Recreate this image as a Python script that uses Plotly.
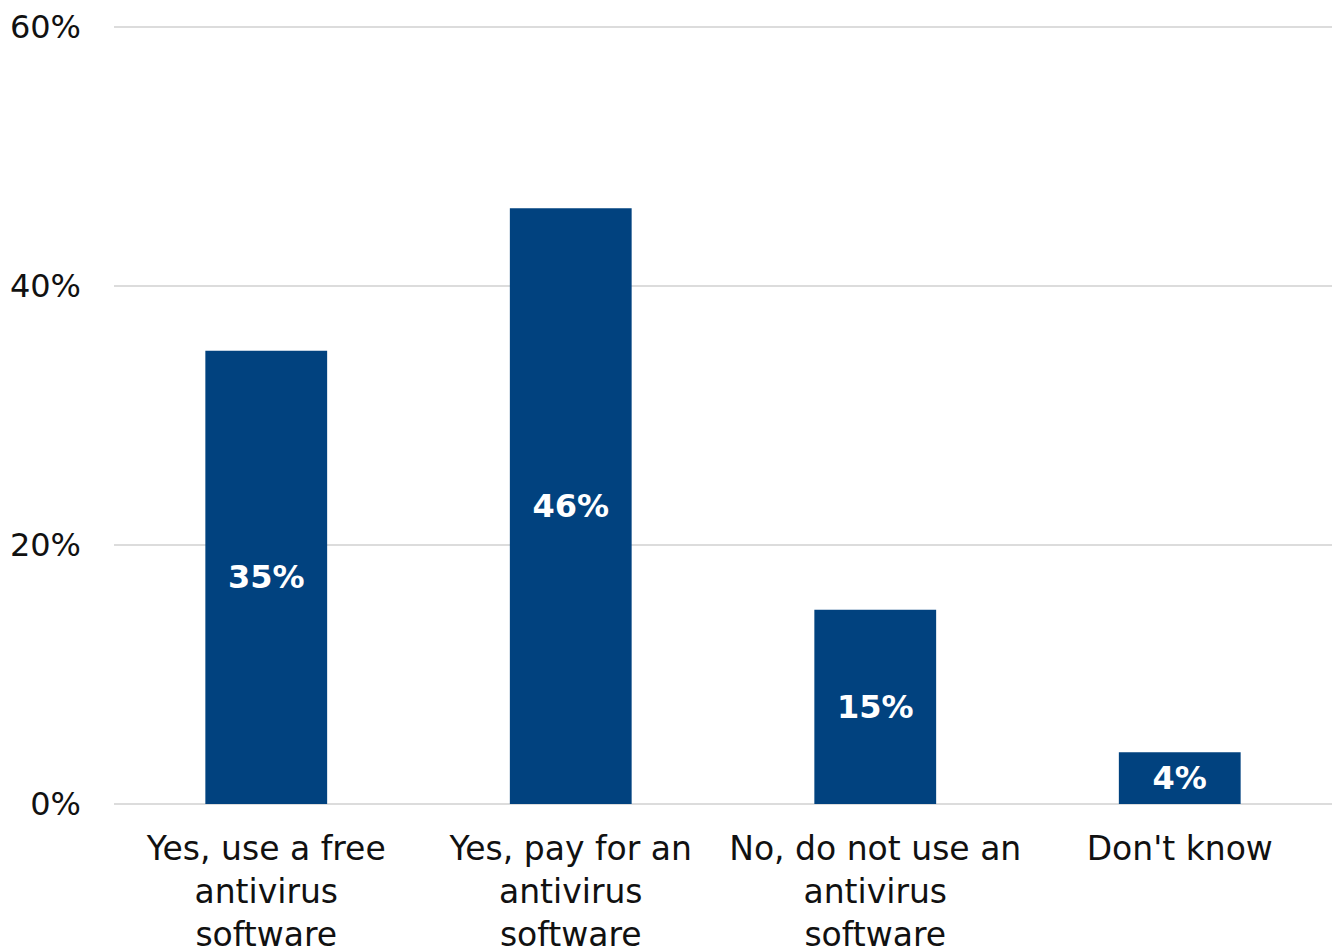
import plotly.graph_objects as go

categories = [
    "Yes, use a free<br>antivirus<br>software",
    "Yes, pay for an<br>antivirus<br>software",
    "No, do not use an<br>antivirus<br>software",
    "Don't know",
]
values = [35, 46, 15, 4]
tick_vals = [0, 20, 40, 60]
tick_text = ["0%", "20%", "40%", "60%"]

FONT = "DejaVu Sans"
BAR_COLOR = "#01427f"

fig = go.Figure(
    go.Bar(
        x=categories,
        y=values,
        marker=dict(color=BAR_COLOR, line=dict(width=0)),
        text=[f"{v}%" for v in values],
        textposition="inside",
        insidetextanchor="middle",
        textangle=0,
        textfont=dict(family=FONT, size=32, color="white", weight="bold"),
        constraintext="none",
        cliponaxis=False,
    )
)

fig.update_layout(
    width=1337,
    height=947,
    margin=dict(l=114, r=5, t=25, b=141, autoexpand=False),
    paper_bgcolor="white",
    plot_bgcolor="white",
    bargap=0.6,
    showlegend=False,
    font=dict(family=FONT, color="#111111"),
    uniformtext=dict(mode=False),
)

fig.update_xaxes(
    showgrid=False,
    showline=False,
    ticks="",
    tickfont=dict(family=FONT, size=33, color="#111111"),
    automargin=False,
    ticklabelstandoff=20,
)

# padding so the 0% and 60% gridlines are kept at the plot edges
fig.update_yaxes(
    range=[-0.15, 60.15],
    tickvals=tick_vals,
    ticktext=tick_text,
    showgrid=True,
    gridcolor="#dcdcdc",
    gridwidth=2,
    zeroline=False,
    showline=False,
    ticks="",
    tickfont=dict(family=FONT, size=32, color="#111111"),
    automargin=False,
    ticklabelstandoff=32,
)

fig.write_html("out.html")
